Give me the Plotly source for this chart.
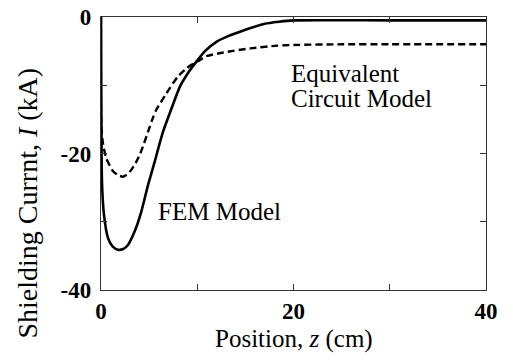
import plotly.graph_objects as go

# Shielding current along the position z, two models
fem_z = [0.0, 0.03, 0.1, 0.31, 0.73, 1.2, 1.77, 2.3, 2.8, 3.5, 4.19, 4.89, 5.58, 5.96, 6.45,
         7.17, 8.2, 9.04, 9.77, 10.8, 12.03, 13.2, 14.45, 15.8, 17.0, 18.5, 20.0, 30.0, 40.0]
fem_i = [0.0, -12.0, -24.1, -29.0, -32.4, -33.6, -34.1, -34.0, -33.4, -31.4, -28.5, -24.6,
         -21.2, -19.2, -16.8, -14.0, -10.2, -8.2, -6.8, -5.0, -3.6, -2.8, -2.15, -1.5, -1.0,
         -0.7, -0.5, -0.5, -0.5]

ecm_z = [0.0, 0.03, 0.2, 0.55, 1.25, 1.8, 2.29, 2.7, 3.15, 3.6, 4.02, 4.45, 4.89, 5.44, 5.75,
         6.79, 8.0, 8.91, 9.39, 10.3, 10.8, 12.7, 15.5, 18.3, 20.0, 25.0, 30.0, 40.0]
ecm_i = [0.0, -15.8, -18.5, -20.7, -22.6, -23.2, -23.4, -23.1, -22.4, -21.4, -20.2, -18.6,
         -16.8, -14.6, -13.6, -11.2, -8.7, -7.5, -7.0, -6.3, -5.8, -5.2, -4.6, -4.2, -4.1,
         -4.0, -4.0, -4.0]

x_ticks = [0, 10, 20, 30, 40]
x_labels = ["0", "", "20", "", "40"]
y_ticks = [0, -10, -20, -30, -40]
y_labels = ["0", "", "-20", "", "-40"]

serif = "Liberation Serif, Times New Roman, serif"

fig = go.Figure()
fig.add_trace(go.Scatter(x=fem_z, y=fem_i, mode="lines",
                         line=dict(color="black", width=2.6, shape="spline", smoothing=0.6),
                         showlegend=False))
fig.add_trace(go.Scatter(x=ecm_z, y=ecm_i, mode="lines",
                         line=dict(color="black", width=2.4, dash="7px,4px",
                                   shape="spline", smoothing=0.6),
                         showlegend=False))

axis_common = dict(
    showgrid=False, zeroline=False, showline=True, linecolor="#333", linewidth=1.4,
    mirror="allticks", ticks="inside", ticklen=6, tickwidth=1.2, tickcolor="#333",
    tickfont=dict(family=serif, size=23, color="black", weight="bold"),
    tickmode="array", automargin=False,
)

fig.update_xaxes(range=[0, 40], tickvals=x_ticks, ticktext=x_labels,
                 ticklabelstandoff=0, **axis_common)
fig.update_yaxes(range=[-40, 0], tickvals=y_ticks, ticktext=y_labels,
                 ticklabelstandoff=4, **axis_common)

fig.add_annotation(text="Position, <i>z</i> (cm)", xref="paper", yref="paper",
                   x=0.5, y=-0.18, showarrow=False, yanchor="middle",
                   font=dict(family=serif, size=25, color="black"))
fig.add_annotation(text="Shielding Currnt, <i>I</i> (kA)", xref="paper", yref="paper",
                   x=-0.19, y=0.32, showarrow=False, textangle=-90,
                   xanchor="center", yanchor="middle",
                   font=dict(family=serif, size=28, color="black"))
fig.add_annotation(text="FEM Model", x=5.7, y=-28.5, xref="x", yref="y",
                   showarrow=False, xanchor="left", yanchor="middle",
                   font=dict(family=serif, size=25, color="black"))
fig.add_annotation(text="Equivalent", x=19.5, y=-8.3, xref="x", yref="y",
                   showarrow=False, xanchor="left", yanchor="middle",
                   font=dict(family=serif, size=25, color="black"))
fig.add_annotation(text="Circuit Model", x=19.5, y=-12.0, xref="x", yref="y",
                   showarrow=False, xanchor="left", yanchor="middle",
                   font=dict(family=serif, size=25, color="black"))

fig.update_layout(
    width=513, height=360,
    margin=dict(l=101, r=27, t=17, b=70),
    paper_bgcolor="white", plot_bgcolor="white",
    font=dict(family=serif),
)

fig.write_html("out.html")
